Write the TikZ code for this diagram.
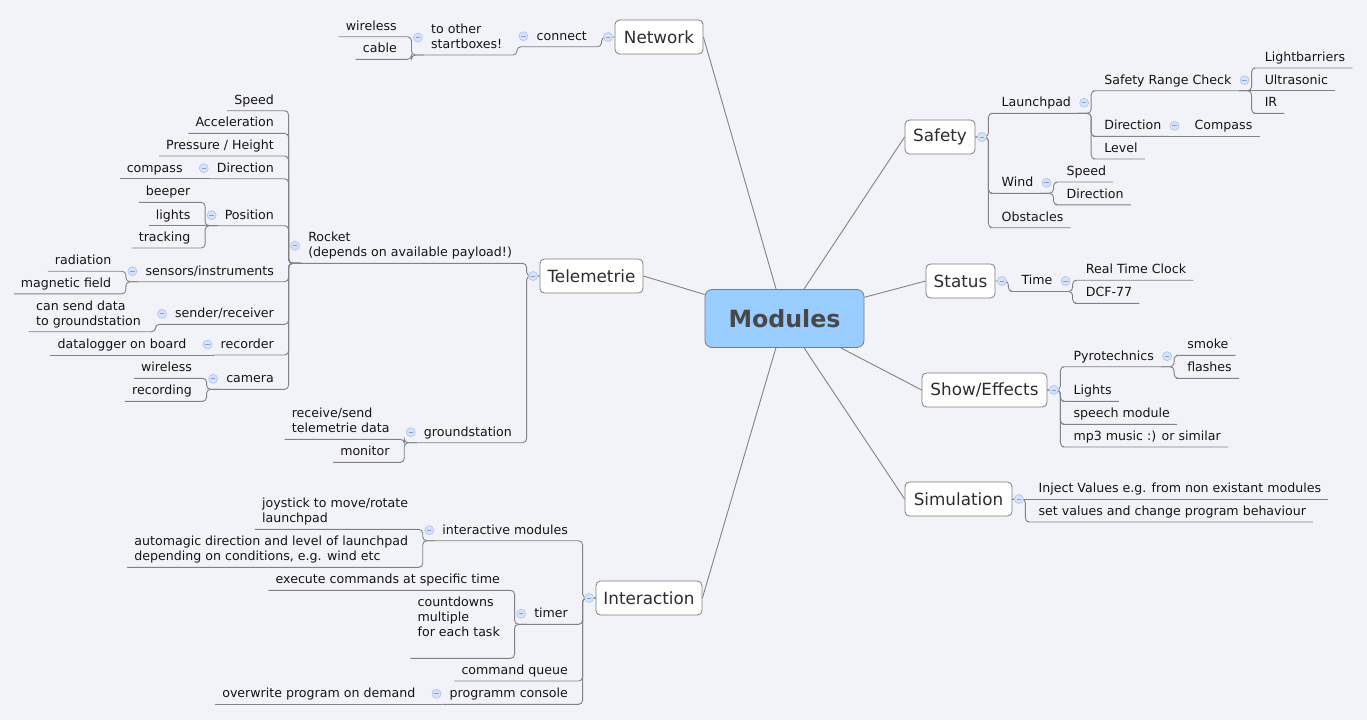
\documentclass[tikz,border=0pt]{standalone}
\usepackage{fontspec}
\setmainfont{DejaVu Sans}
\usetikzlibrary{calc}
\definecolor{bgc}{RGB}{242,243,248}
\definecolor{linec}{RGB}{130,130,130}
\definecolor{boxc}{RGB}{125,125,125}
\definecolor{cfill}{RGB}{153,204,255}
\definecolor{ctext}{RGB}{72,72,72}
\definecolor{mtext}{RGB}{45,45,45}
\definecolor{stext}{RGB}{20,20,20}
\definecolor{mfill}{RGB}{214,227,250}
\definecolor{mline}{RGB}{170,194,238}
\definecolor{msign}{RGB}{130,158,214}
\newcommand\dstrut{\rule[-3pt]{0pt}{3pt}}
\newcommand\ssfont{\fontsize{12.6}{15}\selectfont}
\newcommand\mmfont{\fontsize{16.8}{20}\selectfont}
\tikzset{
  conn/.style={draw=linec, line width=0.9pt, rounded corners=4pt},
  cline/.style={draw=linec, line width=0.9pt},
  sub/.style={font=\ssfont, text=stext, inner xsep=7pt, inner ysep=3.5pt, align=left},
  subR/.style={sub, anchor=south west},
  subL/.style={sub, anchor=south east},
  mainbox/.style={draw=boxc, fill=white, rounded corners=4.5pt, minimum height=34pt,
    inner xsep=0pt, font=\mmfont, text=mtext, line width=0.8pt},
  coll/.style={circle, draw=mline, fill=mfill, line width=0.6pt, minimum size=9pt, inner sep=0pt,
    path picture={\draw[msign, line width=0.9pt]
      ($(path picture bounding box.center)+(-2.2,0)$) -- ($(path picture bounding box.center)+(2.2,0)$);}}
}
% right side
\newcommand\mainR[4]{\node[subR] (#2) at ($(#1.east)+(19,#3)$) {#4\dstrut};
  \draw[conn] (#1.east) -- ++(13,0) |- (#2.south west) -- (#2.south east);}
\newcommand\mainRs[3]{\node[subR] (#2) at ($(#1.east)+(19,0)$) {#3\dstrut};
  \draw[conn] (#1.east) -- (#2.south east);}
\newcommand\subR[4]{\node[subR] (#2) at ($(#1.south east)+(19,#3)$) {#4\dstrut};
  \draw[conn] (#1.south east) -- ++(13,0) |- (#2.south west) -- (#2.south east);}
\newcommand\subRs[3]{\node[subR] (#2) at ($(#1.south east)+(19,0)$) {#3\dstrut};
  \draw[conn] (#1.south east) -- (#2.south east);}
% left side
\newcommand\mainL[4]{\node[subL] (#2) at ($(#1.west)+(-20.5,#3)$) {#4\dstrut};
  \draw[conn] (#1.west) -- ++(-13,0) |- (#2.south east) -- (#2.south west);}
\newcommand\subL[4]{\node[subL] (#2) at ($(#1.south west)+(-20,#3)$) {#4\dstrut};
  \draw[conn] (#1.south west) -- ++(-12.5,0) |- (#2.south east) -- (#2.south west);}
\newcommand\subLs[3]{\node[subL] (#2) at ($(#1.south west)+(-20,0)$) {#3\dstrut};
  \draw[conn] (#1.south west) -- (#2.south west);}
% collapse markers
\newcommand\colMR[1]{\node[coll] (c-#1) at ($(#1.east)+(6.5,0)$) {};}
\newcommand\colML[1]{\node[coll] (c-#1) at ($(#1.west)+(-6.5,0)$) {};}
\newcommand\colR[1]{\node[coll] (c-#1) at ($(#1.south east)+(6,-10.5)$) {};}
\newcommand\colL[1]{\node[coll] (c-#1) at ($(#1.south west)+(-6,-10.5)$) {};}
\newcommand\colLm[1]{\node[coll] (c-#1) at ($(#1.west)+(-6,0)$) {};}
\begin{document}
\begin{tikzpicture}[x=1pt,y=-1pt]
\fill[bgc] (0,0) rectangle (1367,720);
\useasboundingbox (0,0) rectangle (1367,720);

% central and main topics
\node[draw=boxc, fill=cfill, rounded corners=7pt, minimum width=159pt, minimum height=58pt,
  font=\fontsize{23.7}{28}\selectfont\bfseries, text=ctext, line width=0.8pt] (mod) at (784.5,318.5) {Modules};
\node[mainbox, minimum width=88pt]  (net) at (659,37)    {Network};
\node[mainbox, minimum width=70pt]  (saf) at (940,137)   {Safety};
\node[mainbox, minimum width=69pt]  (sta) at (960.5,281) {Status};
\node[mainbox, minimum width=125pt] (sho) at (984.5,390) {Show/Effects};
\node[mainbox, minimum width=107pt] (sim) at (958.5,499) {Simulation};
\node[mainbox, minimum width=103pt] (tel) at (591.5,276) {Telemetrie};
\node[mainbox, minimum width=106pt] (int) at (649,598)   {Interaction};

\foreach \t/\a in {net/east, saf/west, sta/west, sho/west, sim/west, tel/east, int/east}
  \draw[cline] (mod) -- (\t.\a);

% Safety
\mainR{saf}{launch}{-23.7}{Launchpad}
\mainR{saf}{wind}{56.3}{Wind}
\mainR{saf}{obst}{90.7}{Obstacles}
\subR{launch}{src}{-22.6}{Safety Range Check}
\subR{launch}{sdir}{23}{Direction}
\subR{launch}{level}{45.7}{Level}
\subR{src}{lightb}{-22.7}{Lightbarriers}
\subRs{src}{ultra}{Ultrasonic}
\subR{src}{ir}{22.7}{IR}
\subRs{sdir}{compR}{Compass}
\subR{wind}{wspeed}{-11.3}{Speed}
\subR{wind}{wdir}{11.5}{Direction}

% Status
\mainR{sta}{time}{10.5}{Time}
\subR{time}{rtc}{-11.3}{Real Time Clock}
\subR{time}{dcf}{11.8}{DCF-77}

% Show/Effects
\mainR{sho}{pyro}{-23.3}{Pyrotechnics}
\mainR{sho}{lightsR}{11.3}{Lights}
\mainR{sho}{speech}{34.3}{speech module}
\mainR{sho}{mp3}{57}{mp3 music :) or similar}
\subR{pyro}{smoke}{-11.4}{smoke}
\subR{pyro}{flashes}{11.6}{flashes}

% Simulation
\mainRs{sim}{inject}{Inject Values e.g. from non existant modules}
\mainR{sim}{setv}{23}{set values and change program behaviour}

% Network
\mainL{net}{connect}{9.7}{connect}
\subL{connect}{tother}{8.3}{to other\\startboxes!}
\subL{tother}{wless}{-18.3}{wireless}
\subL{tother}{cable}{4.3}{cable}

% Telemetrie
\mainL{tel}{rocket}{-12.7}{Rocket\\(depends on available payload!)}
\mainL{tel}{ground}{166.7}{groundstation}
\subL{rocket}{rspeed}{-152.6}{Speed}
\subL{rocket}{accel}{-130}{Acceleration}
\subL{rocket}{press}{-107.3}{Pressure / Height}
\subL{rocket}{rdir}{-84.6}{Direction}
\subL{rocket}{pos}{-37.6}{Position}
\subL{rocket}{sens}{18.4}{sensors/instruments}
\subL{rocket}{sender}{61}{sender/receiver}
\subL{rocket}{recorder}{91.7}{recorder}
\subL{rocket}{camera}{126}{camera}
\subLs{rdir}{compL}{compass}
\subL{pos}{beeper}{-23.4}{beeper}
\subLs{pos}{lightsL}{lights}
\subL{pos}{tracking}{22.3}{tracking}
\subL{sens}{radiation}{-10.5}{radiation}
\subL{sens}{magnetic}{12.1}{magnetic field}
\subL{sender}{cansend}{7.4}{can send data\\to groundstation}
\subLs{recorder}{datalog}{datalogger on board}
\subL{camera}{camwl}{-11}{wireless}
\subL{camera}{camrec}{12}{recording}
\subL{ground}{recv}{-3.4}{receive/send\\telemetrie data}
\subL{ground}{monitor}{19.6}{monitor}

% Interaction
\mainL{int}{inter}{-57.3}{interactive modules}
\mainL{int}{timer}{26.3}{timer}
\mainL{int}{cmdq}{83}{command queue}
\mainL{int}{console}{106.3}{programm console}
\subL{inter}{joystick}{-11.4}{joystick to move/rotate\\launchpad}
\subL{inter}{automagic}{26.6}{automagic direction and level of launchpad\\depending on conditions, e.g. wind etc}
\subL{timer}{exec}{-34}{execute commands at specific time}
\subL{timer}{countdown}{34}{countdowns\\multiple\\for each task\\}
\subLs{console}{overwrite}{overwrite program on demand}

% collapse markers
\colMR{saf}\colMR{sta}\colMR{sho}\colMR{sim}
\colML{net}\colML{tel}\colML{int}
\colR{launch}\colR{src}\colR{sdir}\colR{wind}\colR{time}\colR{pyro}
\colL{connect}\colLm{tother}\colLm{rocket}\colL{rdir}\colL{pos}\colL{sens}
\colL{sender}\colL{recorder}\colL{camera}\colL{ground}\colL{inter}\colL{timer}\colL{console}
\end{tikzpicture}
\end{document}
